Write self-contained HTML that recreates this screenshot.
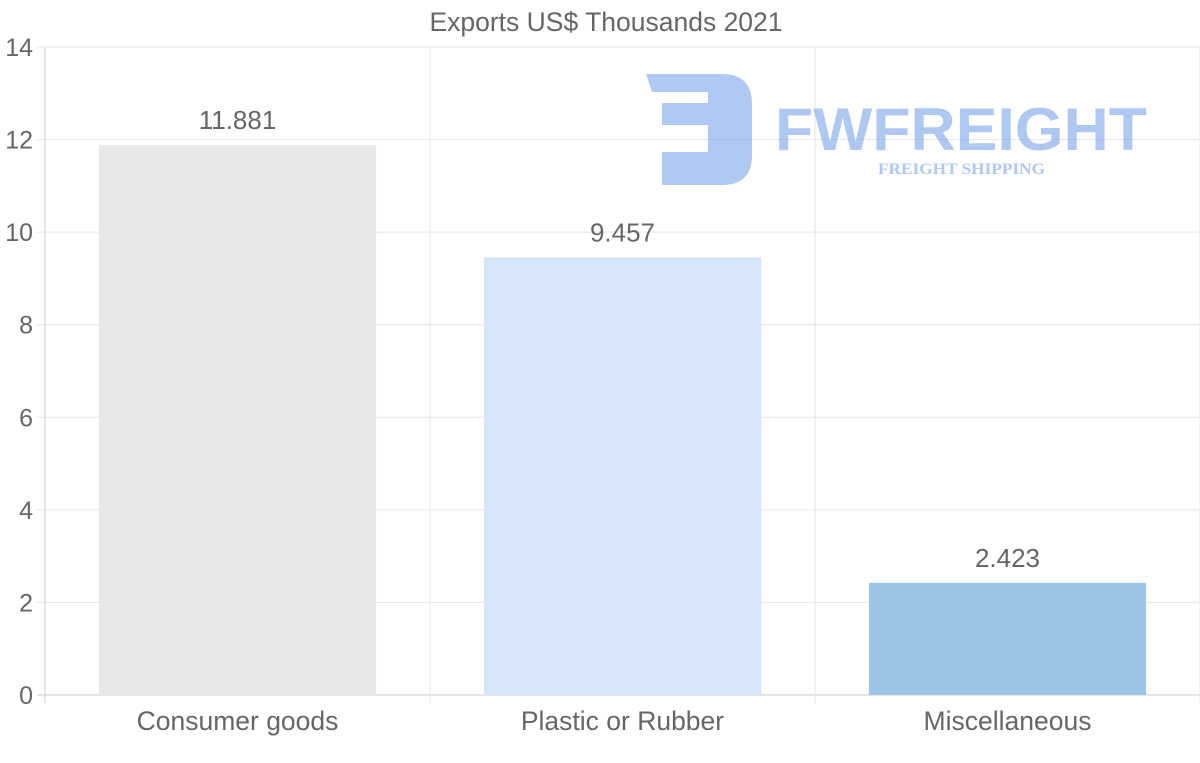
<!DOCTYPE html>
<html><head><meta charset="utf-8"><style>
html,body{margin:0;padding:0;background:#fff;}
svg{display:block;font-family:"Liberation Sans",sans-serif;}
</style></head><body>
<svg id="chart" width="1200" height="763">
<text x="606" y="31" text-anchor="middle" font-size="26.5" fill="#666">Exports US$ Thousands 2021</text>
<g id="grid"></g>
<g id="bars"></g>
<g id="labels"></g>
<g opacity="0.55">
<path d="M646,74 H722 Q752,74 752,104 V155 Q752,185 722,185 H662 V152 H708 V125 H662 V103 H708 V92 H652 Z" fill="#6f9ce8"/>
<text x="775" y="150" font-size="60" font-weight="bold" fill="#6f9ce8" textLength="372" lengthAdjust="spacingAndGlyphs">FWFREIGHT</text>
<text x="878" y="174" font-family="Liberation Serif,serif" font-size="16" font-weight="bold" fill="#6f9ce8" textLength="167" lengthAdjust="spacingAndGlyphs">FREIGHT SHIPPING</text>
</g>
</svg>
<script>
const categories = ["Consumer goods","Plastic or Rubber","Miscellaneous"];
const values = [11.881, 9.457, 2.423];
const valueLabels = ["11.881","9.457","2.423"];
const yTicks = [0,2,4,6,8,10,12,14];
const colors = ["#e8e8e8","#d6e6f8","#9cc4e6"];
const NS="http://www.w3.org/2000/svg";
const L=45,R=1200,T=47,B=695,yMax=14;
const y=v=>B-(v/yMax)*(B-T);
const cw=(R-L)/categories.length;
const x=i=>L+cw*i;
function mk(tag,attrs,parent,txt){const e=document.createElementNS(NS,tag);for(const k in attrs)e.setAttribute(k,attrs[k]);if(txt!==undefined)e.textContent=txt;parent.appendChild(e);return e;}
const grid=document.getElementById('grid'),bars=document.getElementById('bars'),labels=document.getElementById('labels');
yTicks.forEach(t=>{
  const l=mk('line',{x1:L-8,x2:R,y1:y(t),y2:y(t),stroke:t===0?'#ccc':'#e6e6e6','stroke-width':1},grid);
  
  
  const tx=mk('text',{x:33,y:y(t)+9,'text-anchor':'end','font-size':25,fill:'#666'},grid,String(t));
  
  
});
for(let i=0;i<=categories.length;i++){
  const l=mk('line',{x1:x(i),x2:x(i),y1:T,y2:B+8,stroke:i===0?'#ccc':'#e6e6e6','stroke-width':1},grid);
  
  
}
categories.forEach((c,i)=>{
  const bw=cw*0.72,bx=x(i)+(cw-bw)/2;
  const r=mk('rect',{x:bx,y:y(values[i]),width:bw,height:B-y(values[i]),fill:colors[i]},bars);
  
  
  const v=mk('text',{x:x(i)+cw/2,y:y(values[i])-16,'text-anchor':'middle','font-size':26,fill:'#666'},labels,valueLabels[i]);
  
  
  const cl=mk('text',{x:x(i)+cw/2,y:730,'text-anchor':'middle','font-size':26.5,fill:'#666'},labels,c);
  
  
});
</script>
</body></html>
